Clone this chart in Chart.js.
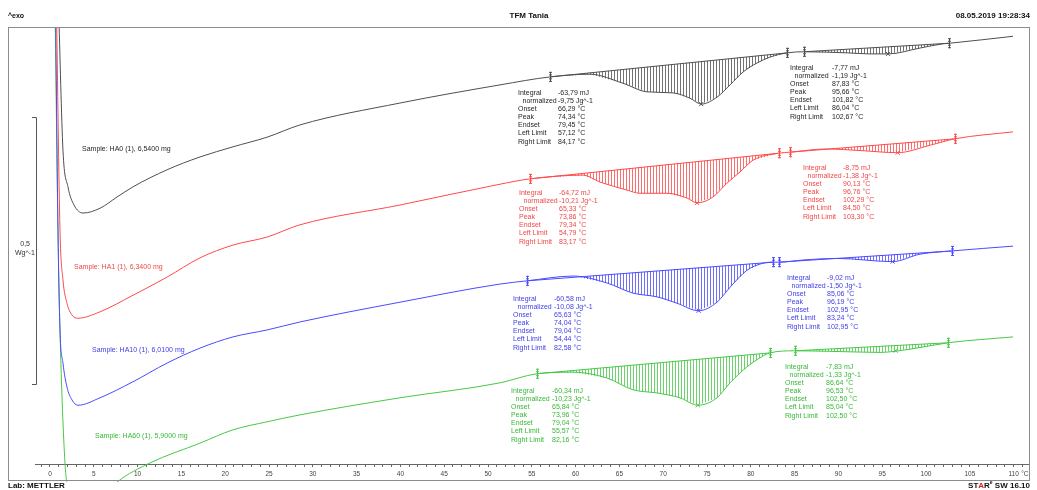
<!DOCTYPE html>
<html>
<head>
<meta charset="utf-8">
<title>TFM Tania</title>
<script src="https://cdn.jsdelivr.net/npm/chart.js@4/dist/chart.umd.min.js"></script>
<style>
  html, body { margin: 0; padding: 0; background: #fff; }
  #wrap { width: 1037px; height: 490px; position: relative; }
</style>
</head>
<body>
<div id="wrap"><canvas id="dsc"></canvas></div>
<script>
const sampleNames = ['Sample: HA0 (1), 6,5400 mg', 'Sample: HA1 (1), 6,3400 mg', 'Sample: HA10 (1), 6,0100 mg', 'Sample: HA60 (1), 5,9000 mg'];
const sampleColors = ['#4f4f4f', '#ff4a4a', '#4a4aff', '#46c846'];
const textColors = ['#262626', '#f04848', '#4040e8', '#38b838'];

// heat flow curves, temperature in °C, flow in W/g (shifted per sample)
const ha0Temp = [0.97, 1.48, 2.05, 2.74, 3.77, 5.71, 7.65, 9.47, 13.36, 17.12, 20.89, 24.77, 28.54, 39.95, 51.37, 57.12, 61.64, 65.41, 68.15, 71.12, 73.06, 74.34, 76.14, 77.63, 79.11, 80.71, 82.19, 84.17, 86.04, 90.98, 93.60, 95.66, 99.32, 101.94, 102.67, 109.93];
const ha0Flow = [0.860, 0.588, 0.519, 0.485, 0.470, 0.479, 0.500, 0.519, 0.551, 0.575, 0.594, 0.612, 0.635, 0.676, 0.710, 0.725, 0.730, 0.713, 0.697, 0.695, 0.685, 0.674, 0.687, 0.710, 0.734, 0.751, 0.762, 0.770, 0.772, 0.770, 0.768, 0.768, 0.779, 0.787, 0.788, 0.801];

const ha1Temp = [0.73, 1.14, 1.48, 1.94, 2.51, 3.20, 5.71, 9.47, 13.36, 17.12, 20.89, 24.77, 28.54, 39.95, 51.37, 54.79, 60.84, 62.79, 65.87, 67.35, 70.43, 72.72, 73.86, 75.68, 77.28, 78.77, 80.25, 83.17, 84.50, 88.70, 92.50, 96.76, 100.46, 103.30, 109.93];
const ha1Flow = [0.860, 0.438, 0.345, 0.301, 0.279, 0.273, 0.285, 0.316, 0.350, 0.386, 0.410, 0.425, 0.448, 0.485, 0.524, 0.534, 0.541, 0.528, 0.513, 0.507, 0.507, 0.498, 0.489, 0.500, 0.526, 0.547, 0.569, 0.582, 0.584, 0.590, 0.587, 0.583, 0.597, 0.609, 0.622];

const ha10Temp = [0.63, 0.91, 1.14, 1.48, 1.94, 2.51, 3.20, 5.71, 9.47, 13.36, 17.12, 20.89, 24.77, 28.54, 39.95, 51.37, 54.44, 59.70, 63.58, 66.55, 69.29, 71.58, 74.04, 76.14, 77.63, 79.57, 81.39, 82.58, 83.24, 85.96, 89.84, 96.19, 99.32, 102.95, 109.93];
const ha10Flow = [0.860, 0.438, 0.251, 0.189, 0.144, 0.120, 0.110, 0.124, 0.154, 0.189, 0.217, 0.238, 0.251, 0.266, 0.303, 0.337, 0.343, 0.352, 0.339, 0.320, 0.313, 0.301, 0.287, 0.303, 0.331, 0.363, 0.376, 0.378, 0.378, 0.382, 0.385, 0.379, 0.393, 0.399, 0.408];

const ha60Temp = [0.57, 0.91, 1.14, 1.71, 2.11, 4.00, 5.71, 7.65, 11.42, 17.12, 20.89, 24.77, 28.54, 39.95, 51.37, 55.57, 59.70, 63.58, 66.55, 69.29, 71.92, 73.96, 76.14, 77.63, 79.57, 81.05, 82.16, 85.04, 89.04, 94.75, 98.17, 102.50, 109.93];
const ha60Flow = [0.860, 0.438, 0.251, 0.002, -0.049, -0.150, -0.067, -0.034, 0.002, 0.039, 0.064, 0.079, 0.092, 0.124, 0.152, 0.169, 0.172, 0.161, 0.139, 0.133, 0.124, 0.110, 0.124, 0.152, 0.182, 0.199, 0.208, 0.212, 0.211, 0.209, 0.215, 0.227, 0.238];

const curveTemps = [ha0Temp, ha1Temp, ha10Temp, ha60Temp];
const curveFlows = [ha0Flow, ha1Flow, ha10Flow, ha60Flow];

// peak evaluations: [main peak, second peak] for each sample
const integralMJ = [[-63.79, -7.77], [-64.72, -8.75], [-60.58, -9.02], [-60.34, -7.83]];
const normalizedJg = [[-9.75, -1.19], [-10.21, -1.38], [-10.08, -1.50], [-10.23, -1.33]];
const onsetC = [[66.29, 87.83], [65.33, 90.13], [65.63, 85.06], [65.84, 86.64]];
const peakC = [[74.34, 95.66], [73.86, 96.76], [74.04, 96.19], [73.96, 96.53]];
const endsetC = [[79.45, 101.82], [79.34, 102.29], [79.04, 102.95], [79.04, 102.50]];
const leftLimitC = [[57.12, 86.04], [54.79, 84.50], [54.44, 83.24], [55.57, 85.04]];
const rightLimitC = [[84.17, 102.67], [83.17, 103.30], [82.58, 102.95], [82.16, 102.50]];

const xLabelTicks = [0, 5, 10, 15, 20, 25, 30, 35, 40, 45, 50, 55, 60, 65, 70, 75, 80, 85, 90, 95, 100, 105, 110];

// text placement: [label x, value x, first line y]
const blockPos = [
  [[518, 558, 93], [790, 832, 68]],
  [[519, 559, 193], [803, 843, 168]],
  [[513, 554, 299], [787, 827, 278]],
  [[511, 552, 391], [785, 826, 367]],
];
const samplePos = [[82, 149], [74, 267], [92, 350], [95, 436]];

const FONT = '"Liberation Sans", Arial, sans-serif';
const fmt = (v) => v.toFixed(2).replace('.', ',');

function flowAt(i, t) {
  const xs = curveTemps[i], ys = curveFlows[i];
  for (let k = 1; k < xs.length; k++) {
    if (t <= xs[k]) return ys[k - 1] + (ys[k] - ys[k - 1]) * (t - xs[k - 1]) / (xs[k] - xs[k - 1]);
  }
  return ys[ys.length - 1];
}

const dscDecor = {
  id: 'dscDecor',
  afterDatasetsDraw(chart) {
    const { ctx, scales: { x, y } } = chart;
    curveTemps.forEach((_, i) => {
      ctx.save();
      ctx.strokeStyle = sampleColors[i];
      ctx.lineWidth = 1;
      [0, 1].forEach((p) => {
        const t0 = leftLimitC[i][p], t1 = rightLimitC[i][p];
        const f0 = flowAt(i, t0), f1 = flowAt(i, t1);
        const px0 = x.getPixelForValue(t0), px1 = x.getPixelForValue(t1);
        const py0 = y.getPixelForValue(f0), py1 = y.getPixelForValue(f1);

        // hatching between baseline and curve
        ctx.globalAlpha = 0.8;
        ctx.beginPath();
        for (let px = Math.ceil(px0) + 0.5; px < px1; px += 3) {
          const t = x.getValueForPixel(px);
          const base = f0 + (f1 - f0) * (t - t0) / (t1 - t0);
          const yb = y.getPixelForValue(base), yc = y.getPixelForValue(flowAt(i, t));
          if (yc - yb > 0.5) { ctx.moveTo(px, yb); ctx.lineTo(px, yc); }
        }
        ctx.stroke();

        ctx.globalAlpha = 1;
        ctx.beginPath();
        ctx.moveTo(px0, py0);
        ctx.lineTo(px1, py1);
        ctx.stroke();

        // limit markers
        [[px0, py0], [px1, py1]].forEach(([px, py]) => {
          const cx = Math.round(px) + 0.5;
          ctx.beginPath();
          ctx.moveTo(cx, py - 5); ctx.lineTo(cx, py + 5);
          ctx.moveTo(cx - 1.5, py - 4.5); ctx.lineTo(cx + 1.5, py - 4.5);
          ctx.moveTo(cx - 1.5, py + 4.5); ctx.lineTo(cx + 1.5, py + 4.5);
          ctx.moveTo(cx - 1.5, py - 2); ctx.lineTo(cx + 1.5, py - 2);
          ctx.moveTo(cx - 1.5, py + 2); ctx.lineTo(cx + 1.5, py + 2);
          ctx.stroke();
        });

        // peak mark
        const pkx = x.getPixelForValue(peakC[i][p]);
        const pky = y.getPixelForValue(flowAt(i, peakC[i][p]));
        ctx.beginPath();
        ctx.moveTo(pkx - 2, pky - 2); ctx.lineTo(pkx + 2, pky + 2);
        ctx.moveTo(pkx + 2, pky - 2); ctx.lineTo(pkx - 2, pky + 2);
        ctx.stroke();
      });
      ctx.restore();
    });
  },
  afterDraw(chart) {
    const { ctx, scales: { x } } = chart;
    ctx.save();
    ctx.textBaseline = 'middle';

    // frame
    ctx.strokeStyle = '#8c8c8c';
    ctx.lineWidth = 1;
    ctx.strokeRect(8.5, 27.5, 1021, 453);

    // header
    ctx.fillStyle = '#111';
    ctx.font = `bold 7px ${FONT}`;
    ctx.textAlign = 'left';
    ctx.fillText('^exo', 8, 16);
    ctx.font = `bold 8px ${FONT}`;
    ctx.textAlign = 'center';
    ctx.fillText('TFM Tania', 529, 16);
    ctx.textAlign = 'right';
    ctx.fillText('08.05.2019 19:28:34', 1030, 16);

    // footer
    ctx.textAlign = 'left';
    ctx.fillText('Lab: METTLER', 8, 486);
    const parts = [['ST', '#111'], ['A', '#d42020'], ['R', '#111']];
    const tail = ' SW 16.10';
    const sup = 'e';
    ctx.font = `bold 8px ${FONT}`;
    const wTail = ctx.measureText(tail).width;
    ctx.font = `bold 5px ${FONT}`;
    const wSup = ctx.measureText(sup).width;
    ctx.font = `bold 8px ${FONT}`;
    const wParts = parts.reduce((s, [t]) => s + ctx.measureText(t).width, 0);
    let cx = 1030 - wTail - wSup - wParts;
    parts.forEach(([t, c]) => { ctx.fillStyle = c; ctx.fillText(t, cx, 486); cx += ctx.measureText(t).width; });
    ctx.fillStyle = '#111';
    ctx.font = `bold 5px ${FONT}`;
    ctx.fillText(sup, cx, 483);
    cx += wSup;
    ctx.font = `bold 8px ${FONT}`;
    ctx.fillText(tail, cx, 486);

    // unit after the last tick label
    ctx.font = `6.5px ${FONT}`;
    ctx.fillStyle = '#444';
    ctx.fillText('°C', x.getPixelForValue(110) + 7.5, 474);

    // 0,5 W/g scale bar
    ctx.strokeStyle = '#555';
    ctx.beginPath();
    ctx.moveTo(32, 117.5); ctx.lineTo(36.5, 117.5); ctx.lineTo(36.5, 384.5); ctx.lineTo(32, 384.5);
    ctx.stroke();
    ctx.font = `7px ${FONT}`;
    ctx.fillStyle = '#333';
    ctx.textAlign = 'right';
    ctx.fillText('0,5', 30, 244);
    ctx.fillText('Wg^-1', 35, 253);

    // sample names and peak evaluation tables
    ctx.textAlign = 'left';
    const labels = ['Integral', 'normalized', 'Onset', 'Peak', 'Endset', 'Left Limit', 'Right Limit'];
    sampleNames.forEach((name, i) => {
      ctx.fillStyle = textColors[i];
      ctx.fillText(name, samplePos[i][0], samplePos[i][1]);
      [0, 1].forEach((p) => {
        const [lx, vx, ty] = blockPos[i][p];
        const values = [
          `${fmt(integralMJ[i][p])} mJ`,
          `${fmt(normalizedJg[i][p])} Jg^-1`,
          `${fmt(onsetC[i][p])} °C`,
          `${fmt(peakC[i][p])} °C`,
          `${fmt(endsetC[i][p])} °C`,
          `${fmt(leftLimitC[i][p])} °C`,
          `${fmt(rightLimitC[i][p])} °C`,
        ];
        labels.forEach((lab, k) => {
          const yy = ty + k * 8.1;
          ctx.fillText(lab, lx + (k === 1 ? 4.5 : 0), yy);
          ctx.fillText(values[k], vx, yy);
        });
      });
    });
    ctx.restore();
  },
};

const datasets = curveTemps.map((temps, i) => ({
  label: sampleNames[i],
  data: temps.map((t, k) => ({ x: t, y: curveFlows[i][k] })),
  borderColor: sampleColors[i],
  borderWidth: 1,
  pointRadius: 0,
  showLine: true,
  cubicInterpolationMode: 'monotone',
  clip: { left: 0, top: 0, right: 0, bottom: 18 },
}));

new Chart(document.getElementById('dsc'), {
  type: 'scatter',
  data: { datasets },
  options: {
    responsive: true,
    maintainAspectRatio: false,
    animation: false,
    devicePixelRatio: 1,
    layout: { padding: { left: 35, right: 9, top: 27, bottom: 0 } },
    plugins: { legend: { display: false }, tooltip: { enabled: false } },
    scales: {
      x: {
        type: 'linear',
        min: -1.712,
        max: 111.64,
        afterBuildTicks: (s) => {
          const ticks = [];
          for (let v = -1; v <= 111; v++) ticks.push({ value: v });
          s.ticks = ticks;
        },
        afterFit: (s) => { s.height = 26; },
        grid: { drawOnChartArea: false, tickLength: 3, color: '#666' },
        border: { color: '#666' },
        ticks: {
          autoSkip: false,
          maxRotation: 0,
          padding: 3,
          color: '#444',
          font: { family: FONT, size: 6.5 },
          callback: (v) => (xLabelTicks.includes(v) ? String(v) : ''),
        },
      },
      y: { display: false, min: 0, max: 0.8184 },
    },
  },
  plugins: [dscDecor],
});
</script>
</body>
</html>
